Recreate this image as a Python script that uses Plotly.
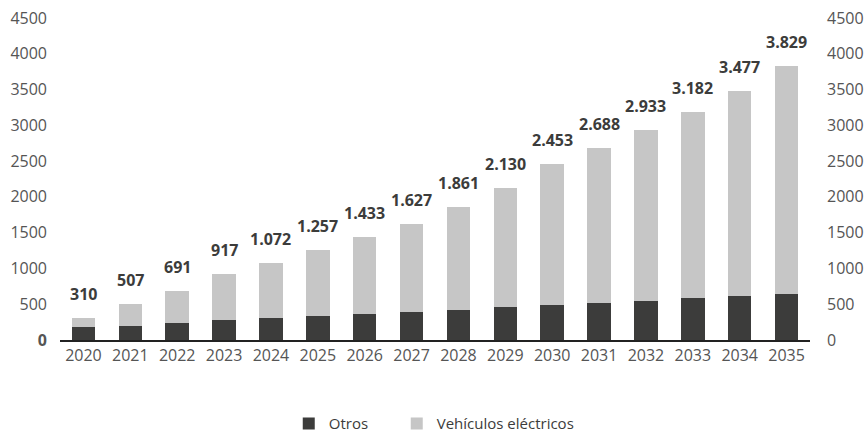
import plotly.graph_objects as go

years = [str(y) for y in range(2020, 2036)]
totales = [310, 507, 691, 917, 1072, 1257, 1433, 1627, 1861, 2130, 2453, 2688, 2933, 3182, 3477, 3829]
otros = [178, 197, 234, 281, 309, 333, 361, 389, 417, 455, 487, 511, 543, 581, 614, 646]
electricos = [t - o for t, o in zip(totales, otros)]
etiquetas = [f"{t:,}".replace(",", ".") for t in totales]

y_ticks = [0, 500, 1000, 1500, 2000, 2500, 3000, 3500, 4000, 4500]
y_ticktext_left = ["<b>0</b>"] + [str(v) for v in y_ticks[1:]]
y_ticktext_right = [str(v) for v in y_ticks]

DARK = "#3c3c3b"
LIGHT = "#c6c6c6"
TICK = "#555555"
FONT = "Open Sans"

fig = go.Figure()
fig.add_trace(go.Bar(x=years, y=otros, name="Otros", marker_color=DARK,
                     marker_line_width=0, legend="legend"))
fig.add_trace(go.Bar(x=years, y=electricos, name="Vehículos eléctricos",
                     marker_color=LIGHT, marker_line_width=0, legend="legend2"))
# invisible trace to anchor the right-hand axis
fig.add_trace(go.Scatter(x=years, y=totales, yaxis="y2", mode="markers",
                         marker_opacity=0, showlegend=False, hoverinfo="skip"))

# total labels above each stacked bar (category index on the x axis)
for i, (tot, lab) in enumerate(zip(totales, etiquetas)):
    fig.add_annotation(x=i, y=tot, xref="x", yref="y", text=f"<b>{lab}</b>",
                       showarrow=False, yshift=24, yanchor="middle",
                       font=dict(family=FONT, size=16, color=DARK))

legend_common = dict(orientation="h", xanchor="left", y=-0.26, yanchor="middle",
                     font=dict(family=FONT, size=15, color=DARK),
                     bgcolor="rgba(0,0,0,0)", itemwidth=30)

fig.update_layout(
    width=868, height=438,
    margin=dict(l=60, r=58, t=18, b=98, autoexpand=False),
    barmode="stack", bargap=0.5,
    plot_bgcolor="white", paper_bgcolor="white",
    font=dict(family=FONT, size=16, color=TICK),
    xaxis=dict(type="category", categoryorder="array", categoryarray=years,
               range=[-0.5, len(years) - 0.5], showgrid=False, showline=True,
               linecolor="#222222", linewidth=2, ticks="",
               tickfont=dict(size=16, color=TICK)),
    yaxis=dict(range=[0, 4500], tickvals=y_ticks, ticktext=y_ticktext_left,
               showgrid=False, zeroline=False, showline=False,
               tickfont=dict(size=16, color=TICK), ticklabelstandoff=12),
    yaxis2=dict(range=[0, 4500], tickvals=y_ticks, ticktext=y_ticktext_right,
                overlaying="y", side="right", showgrid=False, zeroline=False,
                showline=False, tickfont=dict(size=16, color=TICK),
                ticklabelstandoff=16),
    legend=dict(x=0.305, **legend_common),
    legend2=dict(x=0.449, **legend_common),
)

fig.write_html("out.html")
